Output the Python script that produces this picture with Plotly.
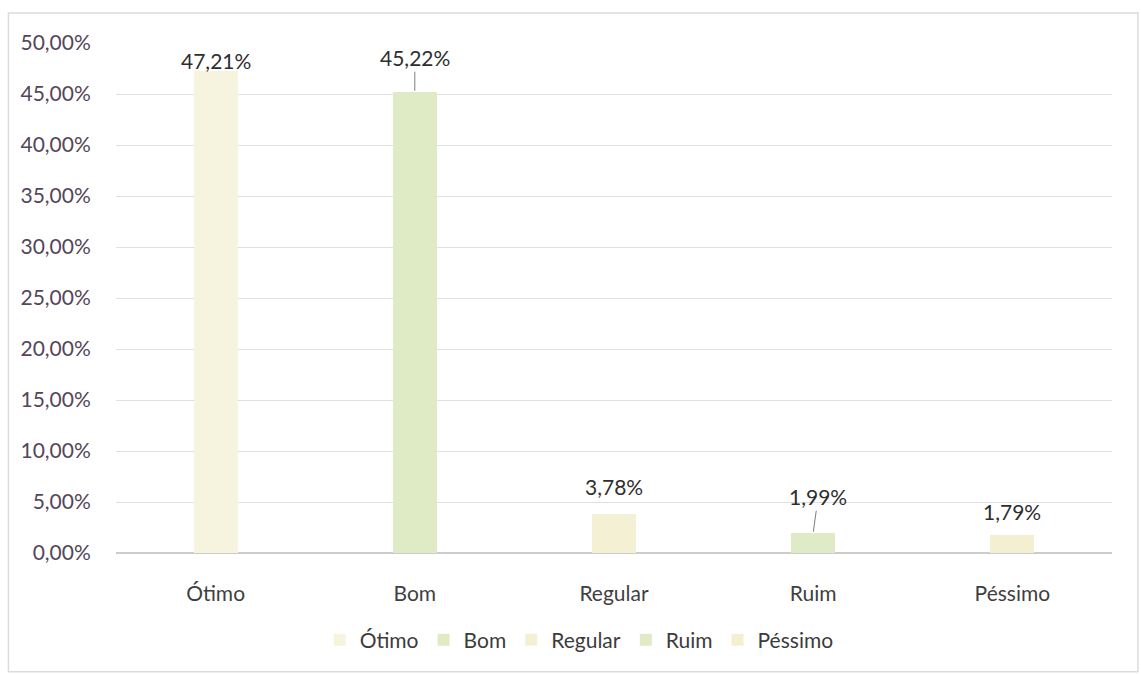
import plotly.graph_objects as go

# Avaliação geral (percentual de respostas)
categorias = ["Ótimo", "Bom", "Regular", "Ruim", "Péssimo"]
valores = [47.21, 45.22, 3.78, 1.99, 1.79]
rotulos = ["47,21%", "45,22%", "3,78%", "1,99%", "1,79%"]
cores = ["#F6F4DE", "#DFEBC4", "#F4F0D4", "#DEEBC6", "#F5EFD2"]

# y-axis ticks every 5 %
tick_vals = [0, 5, 10, 15, 20, 25, 30, 35, 40, 45, 50]
tick_text = ["0,00%", "5,00%", "10,00%", "15,00%", "20,00%", "25,00%",
             "30,00%", "35,00%", "40,00%", "45,00%", "50,00%"]

# label offsets (pixels) and which labels carry a leader line
label_dx = [0, 0, 0, 5, 0]
label_dy = [-11, -34, -28, -36, -23]
leader = [False, True, False, True, False]

FONT = "Lato, 'Open Sans', sans-serif"

fig = go.Figure()
for cat, val, cor in zip(categorias, valores, cores):
    fig.add_trace(go.Bar(
        x=[cat], y=[val], name=cat,
        marker=dict(color=cor, line=dict(width=0)),
        width=0.22, hoverinfo="skip",
    ))

for cat, val, txt, dx, dy, ln in zip(categorias, valores, rotulos,
                                     label_dx, label_dy, leader):
    fig.add_annotation(
        x=cat, y=val, text=txt, showarrow=True,
        ax=dx, ay=dy, arrowhead=0, arrowwidth=1, standoff=1,
        arrowcolor="#7f7f7f" if ln else "rgba(0,0,0,0)",
        font=dict(family=FONT, size=21, color="#2e2e2e"),
    )

# light frame around the whole chart
fig.add_shape(type="rect", xref="paper", yref="paper",
              x0=-0.108, x1=1.026, y0=-0.233, y1=1.059,
              line=dict(color="#dcdcdc", width=1.5), fillcolor="rgba(0,0,0,0)",
              layer="below")

fig.update_layout(
    width=1141, height=674,
    margin=dict(l=116, r=29, t=43, b=121),
    paper_bgcolor="white", plot_bgcolor="white",
    barmode="overlay", bargap=0,
    font=dict(family=FONT, size=21, color="#404040"),
    showlegend=True,
    legend=dict(
        orientation="h", x=0.465, xanchor="center", y=-0.171, yanchor="middle",
        font=dict(family=FONT, size=21, color="#3c3c3c"),
        itemwidth=30, traceorder="normal",
    ),
    xaxis=dict(
        categoryorder="array", categoryarray=categorias,
        showgrid=False, showline=False, zeroline=False,
        ticks="outside", ticklen=22, tickcolor="rgba(0,0,0,0)",
        tickfont=dict(family=FONT, size=21, color="#3f3f3f"),
    ),
    yaxis=dict(
        range=[0, 50], tickvals=tick_vals, ticktext=tick_text,
        showgrid=True, gridcolor="#e0e0e0", gridwidth=1,
        zeroline=True, zerolinecolor="#cccccc", zerolinewidth=1.5,
        showline=False,
        ticks="outside", ticklen=20, tickcolor="rgba(0,0,0,0)",
        tickfont=dict(family=FONT, size=21, color="#54465a"),
    ),
)

fig.write_html("out.html")
